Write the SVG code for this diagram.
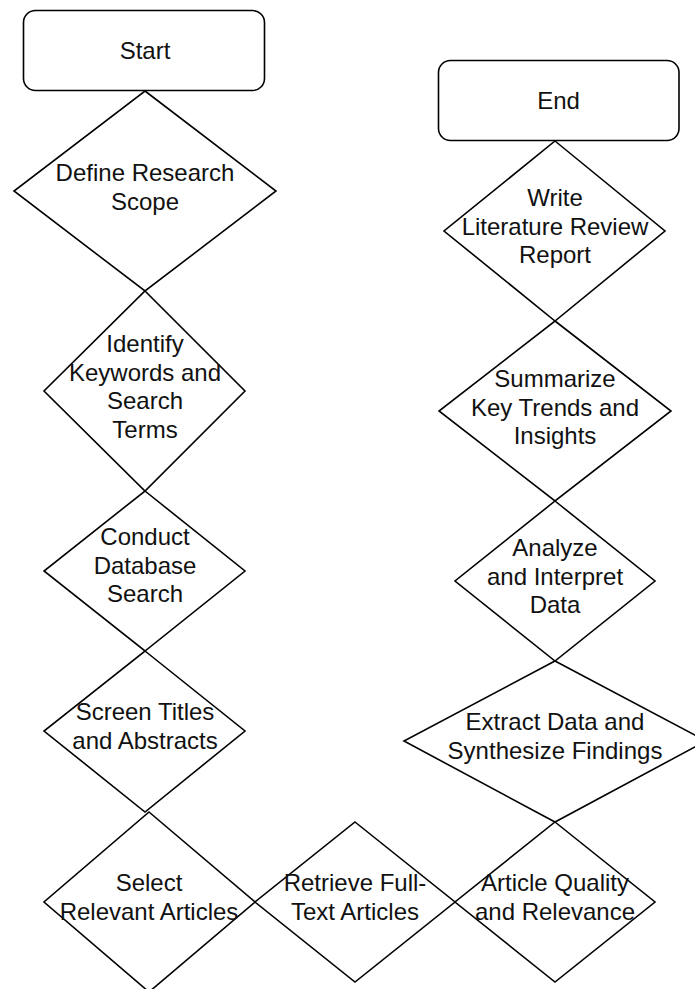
<svg xmlns="http://www.w3.org/2000/svg" width="695" height="989" viewBox="0 0 695 989">
<style>
.s{fill:#fff;stroke:#000;stroke-width:1.6;stroke-linejoin:miter}
.c{fill:none;stroke:#000;stroke-width:1.6}
text{font-family:"Liberation Sans",Arial,sans-serif;font-size:24px;fill:#111;text-anchor:middle}
</style>
<rect width="695" height="989" fill="#fff"/>
<g id="connectors">
<line class="c" x1="145" y1="91" x2="145" y2="91"/>
<line class="c" x1="145" y1="291" x2="145" y2="291"/>
<line class="c" x1="145" y1="491" x2="145" y2="491"/>
<line class="c" x1="145" y1="651" x2="145" y2="651"/>
<line class="c" x1="147" y1="812" x2="147" y2="812"/>
<line class="c" x1="255" y1="902" x2="255" y2="902"/>
<line class="c" x1="455" y1="902" x2="455" y2="902"/>
<line class="c" x1="555" y1="822" x2="555" y2="822"/>
<line class="c" x1="555" y1="661" x2="555" y2="661"/>
<line class="c" x1="555" y1="501" x2="555" y2="501"/>
<line class="c" x1="555" y1="321" x2="555" y2="321"/>
<line class="c" x1="555" y1="141" x2="555" y2="141"/>
</g>
<g id="extract"><polygon class="s" points="555,661 706,741 555,822 404,741"/><text x="555" y="730">Extract Data and</text><text x="555" y="759">Synthesize Findings</text></g>
<g id="start"><rect class="s" x="23.5" y="10.5" width="241" height="80" rx="12"/><text x="145" y="58.5">Start</text></g>
<g id="scope"><polygon class="s" points="145,91 276,191 145,291 14,191"/><text x="145" y="181">Define Research</text><text x="145" y="210">Scope</text></g>
<g id="identify"><polygon class="s" points="145,291 245,391 145,491 44,391"/><text x="145" y="352">Identify</text><text x="145" y="380.5">Keywords and</text><text x="145" y="409">Search</text><text x="145" y="438">Terms</text></g>
<g id="conduct"><polygon class="s" points="145,491 245,571 145,651 44,571"/><text x="145" y="545">Conduct</text><text x="145" y="573.5">Database</text><text x="145" y="602">Search</text></g>
<g id="screen"><polygon class="s" points="145,651 245,731 145,812 44,731"/><text x="145" y="720">Screen Titles</text><text x="145" y="749">and Abstracts</text></g>
<g id="select"><polygon class="s" points="149,812 255,902 149,992 44,902"/><text x="149" y="891">Select</text><text x="149" y="920">Relevant Articles</text></g>
<g id="retrieve"><polygon class="s" points="355,822 455,902 355,982 255,902"/><text x="355" y="891">Retrieve Full-</text><text x="355" y="920">Text Articles</text></g>
<g id="quality"><polygon class="s" points="555,822 655,902 555,982 455,902"/><text x="555" y="891">Article Quality</text><text x="555" y="920">and Relevance</text></g>
<g id="analyze"><polygon class="s" points="555,501 655,581 555,661 455,581"/><text x="555" y="556">Analyze</text><text x="555" y="584.5">and Interpret</text><text x="555" y="613">Data</text></g>
<g id="summarize"><polygon class="s" points="555,321 671,411 555,501 439,411"/><text x="555" y="387">Summarize</text><text x="555" y="415.5">Key Trends and</text><text x="555" y="444">Insights</text></g>
<g id="write"><polygon class="s" points="555,141 665,231 555,321 444,231"/><text x="555" y="206">Write</text><text x="555" y="234.5">Literature Review</text><text x="555" y="263">Report</text></g>
<g id="end"><rect class="s" x="438.5" y="60.5" width="240.5" height="80" rx="12"/><text x="558.5" y="108.5">End</text></g>
</svg>
